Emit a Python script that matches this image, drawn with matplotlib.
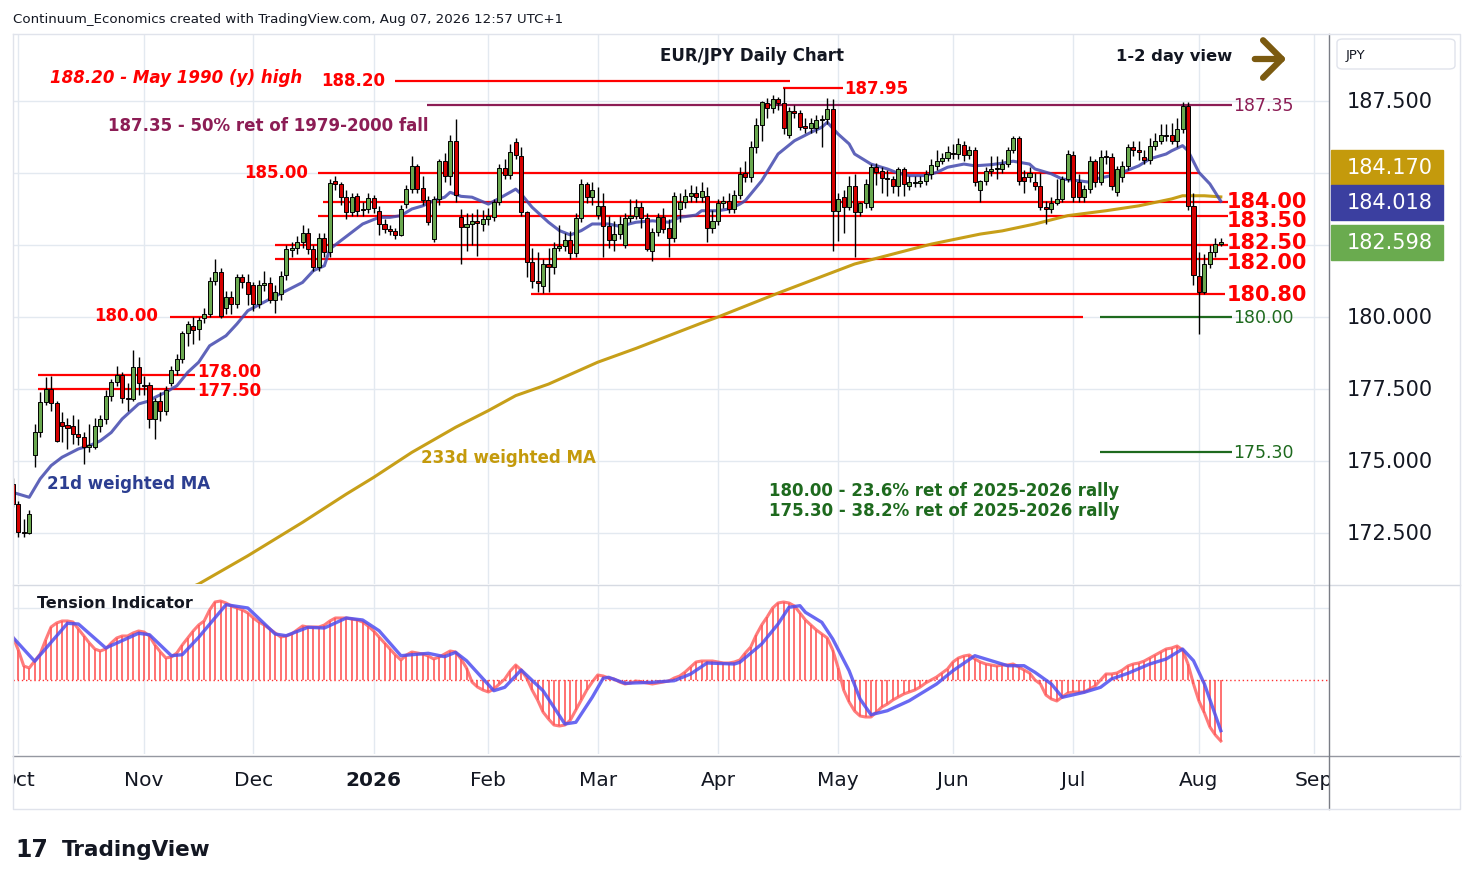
import numpy as np
import pandas as pd
import matplotlib
matplotlib.use("Agg")
import matplotlib.pyplot as plt
from matplotlib.patches import Rectangle, FancyBboxPatch, FancyArrowPatch
from matplotlib.lines import Line2D

# ---------------- DATA ----------------
# daily bars Sep 30 2025 .. Aug 7 2026 (no bars on Dec 25 and Jan 1)
opens = [
    174.2, 173.5, 172.55, 172.5, 175.2, 176.0, 177.05, 177.5, 177.0, 176.35,
    176.25, 176.2, 175.95, 175.85, 175.5, 175.5, 176.2, 176.45, 177.25, 177.75,
    178.0, 177.2, 177.15, 178.25, 177.65, 177.65, 176.45, 177.1, 176.75, 177.7,
    178.15, 178.55, 179.45, 179.7, 179.6, 179.95, 180.1, 181.25, 181.55, 180.3,
    180.7, 180.45, 181.4, 181.2, 181.1, 180.45, 181.1, 181.18, 180.6, 180.8,
    181.46, 182.34, 182.39, 182.6, 182.92, 182.36, 181.73, 182.73, 182.25, 184.73,
    184.62, 184.16, 183.64, 184.19, 183.75, 183.75, 184.12, 183.69, 183.23, 183.06,
    182.98, 182.86, 183.92, 184.44, 185.23, 184.47, 184.07, 182.71, 184.1, 185.43,
    184.89, 186.12, 183.46, 183.11, 183.23, 183.34, 183.23, 183.4, 183.46, 183.98,
    185.16, 184.93, 186.07, 185.6, 183.64, 181.9, 181.26, 181.09, 181.84, 181.73,
    182.39, 182.48, 182.67, 182.22, 183.43, 184.62, 184.16, 183.54, 183.84, 183.15,
    182.68, 182.87, 182.5, 183.43, 183.52, 183.83, 183.43, 182.3, 182.96, 183.46,
    183.08, 182.73, 183.75, 183.98, 184.19, 184.3, 184.16, 184.21, 183.08, 183.34,
    183.95, 184.04, 183.75, 184.25, 184.99, 184.87, 185.89, 186.68, 187.42, 187.26,
    187.57, 187.42, 186.33, 187.14, 187.07, 186.64, 186.56, 186.56, 186.84, 186.87,
    187.22, 183.69, 184.16, 183.81, 184.56, 183.66, 183.95, 183.81, 185.2, 185.06,
    184.81, 184.79, 184.56, 185.14, 184.56, 184.66, 184.64, 184.71, 184.97, 185.25,
    185.41, 185.52, 185.7, 185.66, 185.98, 185.64, 185.8, 184.41, 184.71, 185.08,
    185.13, 185.13, 185.31, 185.8, 186.22, 184.87, 184.87, 184.68, 184.56, 183.83,
    183.74, 183.95, 184.1, 184.79, 185.64, 184.68, 184.16, 184.44, 185.41, 184.68,
    185.57, 185.57, 184.33, 184.85, 185.25, 185.89, 185.8, 185.55, 185.45, 185.95,
    186.12, 186.33, 186.33, 186.12, 186.53, 187.34, 183.87, 181.43, 180.86, 181.84,
    182.25, 182.53]
closes = [
    173.5, 172.55, 172.5, 173.15, 176.0, 177.05, 177.5, 177.0, 175.7, 176.2,
    176.15, 175.95, 175.85, 175.5, 175.55, 176.2, 176.45, 177.25, 177.75, 178.0,
    177.2, 177.15, 178.25, 177.7, 177.6, 176.45, 177.1, 176.75, 177.45, 178.15,
    178.55, 179.45, 179.75, 179.55, 179.9, 180.1, 181.25, 181.55, 180.05, 180.7,
    180.45, 181.4, 181.2, 180.8, 180.45, 181.1, 181.18, 180.6, 180.88, 181.44,
    182.36, 182.39, 182.6, 182.92, 182.36, 181.73, 182.73, 182.25, 184.65, 184.62,
    184.16, 183.64, 184.16, 183.69, 183.72, 184.12, 183.77, 183.23, 183.06, 182.98,
    182.86, 183.75, 184.44, 185.23, 184.44, 184.07, 183.31, 184.1, 185.43, 184.91,
    186.12, 184.24, 183.11, 183.23, 183.34, 183.26, 183.4, 183.5, 183.98, 185.16,
    184.93, 185.72, 185.63, 183.64, 181.9, 181.26, 181.17, 181.84, 181.73, 182.39,
    182.48, 182.67, 182.22, 183.43, 184.62, 184.16, 184.41, 183.84, 183.15, 182.68,
    182.87, 183.24, 183.43, 183.52, 183.83, 183.43, 182.36, 182.96, 183.46, 183.06,
    182.73, 184.21, 183.98, 184.19, 184.3, 184.16, 184.39, 183.08, 183.34, 183.95,
    184.04, 183.75, 184.25, 184.97, 184.87, 185.89, 186.68, 187.45, 187.26, 187.57,
    187.42, 186.56, 187.14, 187.07, 186.61, 186.56, 186.72, 186.84, 186.87, 187.22,
    183.69, 184.1, 183.81, 184.56, 183.66, 183.95, 184.62, 185.2, 185.03, 184.83,
    184.79, 184.56, 185.14, 184.62, 184.68, 184.7, 184.73, 184.97, 185.28, 185.41,
    185.52, 185.72, 185.65, 186.01, 185.64, 185.8, 184.68, 184.71, 185.08, 185.14,
    185.17, 185.31, 185.8, 186.22, 184.73, 184.73, 184.99, 184.56, 183.83, 183.74,
    183.95, 184.1, 184.79, 185.66, 184.16, 184.16, 184.44, 185.41, 184.68, 185.57,
    185.55, 184.56, 185.14, 185.25, 185.89, 185.8, 185.72, 185.45, 185.95, 186.12,
    186.33, 186.27, 186.1, 186.53, 187.34, 183.87, 181.47, 180.86, 181.84, 182.25,
    182.53, 182.6]
highs = [
    174.4, 173.6, 173.0, 173.3, 176.3, 177.4, 177.9, 177.95, 177.1, 176.7,
    176.5, 176.6, 176.45, 176.0, 176.3, 176.5, 176.6, 177.45, 177.85, 178.3,
    178.1, 177.7, 178.85, 178.6, 177.95, 177.75, 177.2, 177.4, 177.6, 178.3,
    178.7, 179.5, 179.85, 180.0, 180.0, 180.3, 181.4, 182.0, 181.7, 180.9,
    180.9, 181.5, 181.5, 181.5, 181.2, 181.3, 181.6, 181.4, 181.1, 181.6,
    182.5, 182.6, 182.8, 183.2, 183.1, 182.5, 182.9, 182.9, 184.79, 184.9,
    184.7, 184.4, 184.3, 184.3, 184.0, 184.3, 184.25, 183.86, 183.4, 183.2,
    183.1, 183.9, 184.6, 185.6, 185.3, 184.9, 184.2, 184.2, 185.5, 185.7,
    186.32, 186.88, 183.75, 183.6, 183.6, 183.75, 183.7, 183.8, 184.1, 185.3,
    185.49, 186.0, 186.2, 185.9, 183.69, 182.4, 182.27, 182.0, 182.4, 182.6,
    183.2, 182.9, 183.0, 183.6, 184.79, 184.7, 184.7, 184.5, 184.3, 183.5,
    183.35, 183.5, 183.6, 184.1, 184.1, 184.0, 183.6, 183.1, 183.6, 183.8,
    183.4, 184.35, 184.3, 184.45, 184.6, 184.55, 184.7, 184.5, 183.7, 184.1,
    184.2, 184.3, 184.4, 185.2, 185.4, 186.1, 186.9, 187.5, 187.6, 187.7,
    187.65, 187.95, 187.3, 187.35, 187.2, 186.9, 186.9, 187.0, 187.0, 187.6,
    187.57, 184.3, 184.4, 184.9, 184.97, 184.0, 184.8, 185.3, 185.35, 185.2,
    185.1, 184.9, 185.2, 185.2, 184.9, 184.9, 184.9, 185.1, 185.5, 185.8,
    185.7, 185.95, 186.0, 186.2, 186.1, 185.95, 185.9, 184.75, 185.2, 185.6,
    185.6, 185.5, 185.9, 186.3, 186.3, 185.1, 185.2, 185.0, 185.0, 184.04,
    184.15, 184.8, 184.9, 185.8, 185.75, 184.95, 184.6, 185.6, 185.5, 185.8,
    185.8, 185.7, 185.25, 185.4, 186.0, 186.1, 186.1, 185.8, 186.2, 186.4,
    186.7, 186.7, 186.75, 186.9, 187.45, 187.45, 184.3, 182.25, 182.2, 182.5,
    182.75, 182.75]
lows = [
    173.4, 172.36, 172.35, 172.45, 174.8, 175.85, 176.95, 176.75, 175.65, 175.65,
    175.4, 175.6, 175.55, 174.9, 175.3, 175.4, 176.0, 176.3, 177.1, 177.6,
    177.0, 176.75, 177.1, 177.3, 177.3, 176.15, 175.75, 176.4, 176.6, 177.6,
    178.0, 178.4, 179.0, 179.05, 179.2, 179.8, 180.0, 181.1, 179.95, 180.1,
    180.1, 180.3, 181.0, 180.4, 180.2, 180.3, 180.9, 180.5, 180.14, 180.6,
    181.3, 182.1, 182.2, 182.4, 182.2, 181.6, 181.6, 182.1, 182.1, 184.4,
    183.9, 183.4, 183.5, 183.5, 183.5, 183.6, 183.6, 182.85, 182.9, 182.85,
    182.7, 182.8, 183.8, 184.3, 184.3, 183.9, 183.2, 182.6, 183.9, 184.7,
    184.6, 184.0, 181.84, 182.3, 182.5, 182.13, 183.0, 183.2, 183.35, 183.9,
    184.8, 184.8, 185.5, 183.5, 181.38, 181.0, 180.88, 180.85, 180.88, 181.5,
    182.3, 182.3, 182.0, 182.1, 183.3, 183.95, 183.9, 183.4, 182.08, 182.4,
    182.3, 182.7, 182.4, 183.3, 183.4, 183.1, 182.3, 181.95, 182.8, 182.9,
    182.07, 182.6, 183.3, 183.8, 184.0, 184.0, 184.0, 182.61, 182.9, 183.2,
    183.8, 183.6, 183.6, 184.1, 184.7, 184.7, 185.7, 186.1, 186.9, 187.1,
    187.2, 186.35, 186.2, 186.9, 186.5, 186.4, 186.4, 186.4, 185.9, 186.7,
    182.3, 182.65, 182.9, 183.7, 182.07, 183.5, 183.8, 183.7, 184.6, 184.3,
    184.2, 184.3, 184.2, 184.2, 184.4, 184.5, 184.5, 184.6, 184.8, 185.1,
    185.3, 185.4, 185.5, 185.5, 185.4, 185.5, 184.55, 184.0, 184.6, 184.9,
    184.8, 185.0, 185.2, 185.7, 184.6, 184.3, 184.7, 184.4, 183.7, 183.23,
    183.6, 183.9, 184.0, 184.7, 184.0, 184.0, 184.0, 184.3, 184.5, 184.6,
    185.3, 184.4, 184.2, 184.7, 185.1, 185.6, 185.45, 185.3, 185.3, 185.8,
    186.0, 186.1, 186.0, 185.9, 186.4, 183.7, 181.1, 179.41, 180.8, 181.7,
    182.1, 182.45]

# Tension indicator histogram, one value per bar
tension_hist = [
    43, 30, 14, 12, 19, 26, 40, 53, 57, 59,
    59, 58, 51, 44, 37, 31, 29, 31, 37, 42,
    44, 44, 47, 49, 48, 44, 35, 28, 22, 23,
    27, 35, 42, 49, 55, 59, 70, 78, 79, 77,
    74, 72, 70, 67, 62, 58, 55, 51, 47, 43,
    44, 46, 50, 54, 53, 53, 53, 55, 59, 62,
    62, 62, 61, 60, 58, 54, 49, 43, 37, 31,
    25, 20, 25, 28, 27, 26, 24, 21, 23, 26,
    29, 28, 21, 12, -2, -7, -10, -12, -9, -4,
    1, 9, 15, 10, 2, -10, -20, -32, -39, -45,
    -46, -45, -40, -30, -20, -10, -2, 5, 4, 2,
    1, -2, -4, -3, -1, -2, -3, -4, -3, -2,
    -1, 2, 4, 8, 13, 18, 19, 19, 19, 18,
    17, 17, 18, 20, 27, 33, 45, 55, 63, 72,
    77, 78, 77, 74, 67, 60, 55, 50, 46, 42,
    30, 12, -10, -22, -31, -36, -37, -37, -32, -27,
    -24, -20, -17, -14, -12, -10, -7, -3, 0, 3,
    7, 11, 18, 22, 24, 25, 21, 18, 16, 15,
    14, 15, 15, 16, 13, 10, 7, 0, -4, -15,
    -19, -21, -17, -13, -12, -12, -12, -9, -6, 0,
    6, 6, 7, 10, 14, 16, 17, 19, 22, 25,
    28, 31, 32, 34, 30, 16, -4, -21, -33, -47,
    -55, -61]

# Tension signal line (bar number, value)
signal_bar = [0, 4, 10, 12, 17, 23, 25, 29, 31, 34, 39, 43, 48, 50, 54, 57, 61, 64, 67,
              71, 76, 79, 81, 83, 88, 90, 93, 97, 101, 103, 106, 108, 109, 112, 117, 121,
              124, 127, 132, 133, 137, 140, 142, 144, 145, 148, 150, 153, 155, 157, 160,
              164, 166, 169, 172, 176, 179, 182, 185, 187, 190, 192, 196, 199, 201, 204,
              208, 211, 214, 216, 218, 221]
signal_val = [42.7, 18.7, 56.7, 56, 32, 46.7, 45.3, 24.3, 25.3, 42.7, 75.3, 72, 46, 44.3,
              52.7, 52, 62, 60, 49.3, 24.3, 26.7, 23.3, 27.7, 19.3, -10.7, -7.3, 10, -10.7,
              -44, -42.3, -17.3, 1.7, 2.7, -3.3, -2.3, -0.7, 6, 17, 16, 17.7, 36, 56, 72.7,
              74.3, 67.7, 57.7, 41, 9.3, -19, -34.7, -30.7, -20.7, -14, -4, 9.3, 24.3, 19.3,
              14.3, 14.3, 7.7, -4, -17.3, -12.3, -7.3, 1, 6.7, 16, 21, 31, 19.3, -4, -50.7]

# 21d weighted MA (bar number, value)
wma21_bar = [0, 3, 5, 7, 9, 12, 14, 16, 18, 20, 23, 25, 26, 28, 30, 32, 34, 36, 39, 41,
             43, 47, 50, 53, 55, 57, 58, 60, 62, 64, 67, 69, 71, 73, 75, 77, 79, 80, 82,
             84, 87, 89, 92, 93, 95, 98, 100, 102, 104, 106, 109, 111, 114, 117, 120, 122,
             125, 126, 129, 131, 133, 134, 137, 140, 143, 146, 148, 149, 151, 153, 154,
             157, 160, 162, 164, 167, 169, 171, 174, 176, 179, 181, 183, 186, 187, 190,
             192, 195, 197, 198, 201, 203, 206, 208, 211, 212, 214, 215, 217, 219, 221]
wma21_val = [173.91, 173.74, 174.38, 174.84, 175.13, 175.42, 175.53, 175.70, 175.99, 176.46,
             176.98, 177.09, 177.21, 177.39, 177.61, 178.08, 178.43, 179.0, 179.35, 179.76,
             180.22, 180.62, 180.91, 181.2, 181.61, 181.78, 182.36, 182.65, 182.94, 183.23,
             183.46, 183.46, 183.52, 183.75, 183.86, 184.04, 184.16, 184.33, 184.19, 184.16,
             183.92, 184.12, 184.44, 184.27, 183.81, 183.29, 183.0, 182.85, 183.0, 183.23,
             183.23, 183.15, 183.29, 183.34, 183.29, 183.46, 183.54, 183.69, 183.69, 183.75,
             183.92, 184.04, 184.73, 185.66, 186.12, 186.41, 186.59, 186.76, 186.35, 186.01,
             185.66, 185.31, 185.14, 184.99, 184.91, 184.91, 185.02, 185.2, 185.31, 185.25,
             185.29, 185.34, 185.41, 185.31, 185.14, 184.97, 184.79, 184.73, 184.68, 184.79,
             184.91, 185.02, 185.25, 185.49, 185.66, 185.77, 185.95, 185.77, 185.02, 184.62,
             184.02]

# 233d weighted MA (bar number, value)
wma233_bar = [30, 34, 43, 53, 61, 66, 73, 81, 87, 92, 98, 107, 114, 120, 126, 129, 140,
              154, 168, 177, 181, 187, 193, 200, 206, 212, 214, 218, 221]
wma233_val = [170.4, 170.73, 171.71, 172.87, 173.85, 174.43, 175.30, 176.17, 176.75, 177.27,
              177.67, 178.43, 178.91, 179.35, 179.79, 180.0, 180.83, 181.84, 182.53, 182.88,
              182.99, 183.23, 183.52, 183.69, 183.86, 184.1, 184.21, 184.21, 184.17]

price_ticks = [172.5, 175.0, 177.5, 180.0, 182.5, 185.0, 187.5]
month_names = ["Oct", "Nov", "Dec", "2026", "Feb", "Mar", "Apr", "May", "Jun", "Jul", "Aug", "Sep"]
last_values = ["184.170", "184.018", "182.598"]

# ---------------- FIGURE ----------------
W, H = 1474, 887
fig = plt.figure(figsize=(W / 100, H / 100), dpi=100)
fig.patch.set_facecolor("white")
plt.rcParams["font.family"] = ["DejaVu Sans"]

def fx(x): return x / W
def fy(y): return 1 - y / H
def px2i(x): return (x - 12.834) / 5.466   # pixel x -> bar number

L, R = 13, 1329
ax = fig.add_axes([fx(L), fy(585), fx(R) - fx(L), fy(35) - fy(585)])
axt = fig.add_axes([fx(L), fy(755), fx(R) - fx(L), fy(586) - fy(755)], sharex=ax)
axd = fig.add_axes([fx(L), fy(810), fx(R) - fx(L), fy(757) - fy(810)], sharex=ax)

days = pd.bdate_range("2025-09-30", "2026-09-30")
days = days[~days.isin(pd.to_datetime(["2025-12-25", "2026-01-01"]))]
n = len(closes)
assert len(opens) == n == len(highs) == len(lows) == len(tension_hist) == 222
xb = np.arange(n)

o = np.array(opens); c = np.array(closes); hi = np.array(highs); lo = np.array(lows)
up = c >= o
col = np.where(up, "#6AA84F", "#D50000")

xlim = (px2i(L), px2i(R))
for a in (ax, axt, axd):
    a.set_xlim(*xlim)
    for s in a.spines.values():
        s.set_visible(False)
    a.tick_params(left=False, right=False, bottom=False, top=False,
                  labelleft=False, labelbottom=False, labelright=False)

ax.set_ylim(187.5 - 483 / 28.8, 187.5 + 67 / 28.8)
axt.set_ylim(-74, 95)
axd.set_ylim(0, 1)

# month starts
month_pos = []
seen = set()
for i, d in enumerate(days):
    key = (d.year, d.month)
    if key not in seen:
        seen.add(key)
        month_pos.append(i)
month_pos = month_pos[1:]
grid_c = "#E3E9F0"
for mp in month_pos:
    ax.axvline(mp, color=grid_c, lw=1, zorder=0)
    axt.axvline(mp, color=grid_c, lw=1, zorder=0)
for t in price_ticks:
    ax.axhline(t, color=grid_c, lw=1, zorder=0)
axt.axhline(72, color=grid_c, lw=1, zorder=0)

for mp, name in zip(month_pos, month_names):
    axd.text(mp, 0.55, name, ha="center", va="center", fontsize=14.5,
             fontweight="bold" if name == "2026" else "normal", color="#131722", clip_on=True)

# ---------------- horizontal levels ----------------
red = "#FF0000"
maroon = "#8C1D55"
dgreen = "#1E6A1E"
levels = [  # (price, x0 px, x1 px, color)
    (188.20, 395, 790, red), (187.95, 783, 843, red), (187.35, 427, 1232, maroon),
    (185.00, 318, 1200, red), (184.00, 323, 1228, red), (183.50, 318, 1228, red),
    (182.50, 275, 1228, red), (182.00, 275, 1228, red), (180.80, 531, 1225, red),
    (180.00, 170, 1083, red), (180.00, 1100, 1232, dgreen), (175.30, 1100, 1232, dgreen),
    (178.00, 38, 195, red), (177.50, 38, 195, red)]
for p, x0, x1, cc in levels:
    ax.hlines(p, px2i(x0), px2i(x1), color=cc, lw=1.6, zorder=2)

# MAs
ax.plot(wma233_bar, wma233_val, color="#C49A0C", lw=2.2, zorder=3, alpha=0.95)
ax.plot(wma21_bar, wma21_val, color="#4349AE", lw=2.2, zorder=5, alpha=0.85)

# candles
ax.vlines(xb, lo, hi, color="black", lw=1.0, zorder=6)
body_h = np.maximum(np.abs(c - o), 0.03)
ax.bar(xb, body_h, bottom=np.minimum(o, c), width=0.74, color=col,
       edgecolor="black", linewidth=0.7, zorder=7)

# level labels
bt = dict(fontsize=15, fontweight="bold", color=red, va="center", ha="left", zorder=8)
for txt, yv in [("184.00", 184.03), ("183.50", 183.37), ("182.50", 182.6),
                ("182.00", 181.9), ("180.80", 180.8)]:
    ax.text(px2i(1227), yv, txt, **bt)
st = dict(fontsize=12, fontweight="bold", va="center", zorder=8)
ax.text(px2i(308), 185.03, "185.00", ha="right", color=red, **st)
ax.text(px2i(158), 180.06, "180.00", ha="right", color=red, **st)
ax.text(px2i(385), 188.23, "188.20", ha="right", color=red, **st)
ax.text(px2i(844), 187.95, "187.95", ha="left", color=red, **st)
ax.text(px2i(197), 178.12, "178.00", ha="left", color=red, **st)
ax.text(px2i(197), 177.48, "177.50", ha="left", color=red, **st)
ax.text(px2i(1233), 187.35, "187.35", ha="left", color=maroon, fontsize=12.5, va="center", zorder=8)
ax.text(px2i(1233), 180.0, "180.00", ha="left", color=dgreen, fontsize=12.5, va="center", zorder=8)
ax.text(px2i(1233), 175.3, "175.30", ha="left", color=dgreen, fontsize=12.5, va="center", zorder=8)

ax.text(px2i(50), 188.35, "188.20 - May 1990 (y) high", color=red, fontsize=12,
        fontweight="bold", fontstyle="italic", va="center", ha="left")
ax.text(px2i(108), 186.65, "187.35 - 50% ret of 1979-2000 fall", color=maroon, fontsize=12,
        fontweight="bold", va="center", ha="left")
ax.text(px2i(47), 174.22, "21d weighted MA", color="#2C3E91", fontsize=12,
        fontweight="bold", va="center", ha="left", zorder=8)
ax.text(px2i(421), 175.15, "233d weighted MA", color="#C49A0C", fontsize=12,
        fontweight="bold", va="center", ha="left", zorder=8)
ax.text(px2i(769), 174.01, "180.00 - 23.6% ret of 2025-2026 rally", color=dgreen, fontsize=12,
        fontweight="bold", va="center", ha="left")
ax.text(px2i(769), 173.31, "175.30 - 38.2% ret of 2025-2026 rally", color=dgreen, fontsize=12,
        fontweight="bold", va="center", ha="left")

# ---------------- tension panel ----------------
th = np.array(tension_hist, dtype=float)
axt.vlines(xb, 0, th, color="#FF4A4A", lw=1.1, zorder=2)
axt.plot(xb, th, color="#FF5A5A", lw=2.2, alpha=0.8, zorder=3)
axt.plot(signal_bar, signal_val, color="#4F4FF0", lw=2.4, alpha=0.85, zorder=4)
axt.axhline(0, color="#FF3030", lw=1.0, ls=(0, (1, 2)), zorder=1)
fig.text(fx(37), fy(604), "Tension Indicator", fontsize=11.5, fontweight="bold",
         color="#131722", va="center", ha="left")

# ---------------- right scale ----------------
for t in price_ticks:
    if t in (182.5, 185.0):
        continue
    ax.text(1 + (1347 - R) / (R - L), t, f"{t:.3f}", transform=ax.get_yaxis_transform(),
            fontsize=15, color="#131722", va="center", ha="left", clip_on=False)

badges = [(168, "#C49A0C"), (203, "#3B3FA0"), (243.5, "#6AAB4F")]
for (yc, bc), lab in zip(badges, last_values):
    fig.patches.append(Rectangle((fx(1331), fy(yc + 17.5)), fx(1443) - fx(1331), 35 / H,
                                 transform=fig.transFigure, color=bc, zorder=5))
    fig.text(fx(1347), fy(yc), lab, fontsize=15, color="white", va="center", ha="left", zorder=6)

fig.patches.append(FancyBboxPatch((fx(1337), fy(70)), fx(1455) - fx(1337), 30 / H,
                                  boxstyle="round,pad=0,rounding_size=0.004",
                                  transform=fig.transFigure, facecolor="white",
                                  edgecolor="#E0E3EB", lw=1))
fig.text(fx(1346), fy(55), "JPY", fontsize=9.5, color="#131722", va="center", ha="left")

# frame lines
lc = "#D6DAE2"
fig.add_artist(Line2D([fx(13), fx(1460)], [fy(585.5), fy(585.5)], color=lc, lw=1))
fig.add_artist(Line2D([fx(13), fx(1460)], [fy(757), fy(757)], color="#9598A1", lw=1))
fig.add_artist(Line2D([fx(1329), fx(1329)], [fy(35), fy(810)], color="#7A7D85", lw=1))
fig.add_artist(Line2D([fx(13), fx(1460), fx(1460), fx(13), fx(13)],
                      [fy(35), fy(35), fy(810), fy(810), fy(35)], color="#E0E3EB", lw=1))

# ---------------- header texts ----------------
fig.text(fx(13), fy(19), "Continuum_Economics created with TradingView.com, Aug 07, 2026 12:57 UTC+1",
         fontsize=9.6, color="#131722", va="center", ha="left")
fig.text(fx(752), fy(56), "EUR/JPY Daily Chart", fontsize=12, fontweight="bold",
         color="#131722", va="center", ha="center")
fig.text(fx(1174), fy(57), "1-2 day view", fontsize=11.8, fontweight="bold",
         color="#131722", va="center", ha="center")
fig.add_artist(FancyArrowPatch((fx(1252), fy(60)), (fx(1289), fy(60)),
               transform=fig.transFigure, arrowstyle="->,head_length=0.45,head_width=0.45",
               mutation_scale=30, lw=4.5, color="#7B5A10", capstyle="round", joinstyle="round"))
fig.text(fx(15), fy(850), "17", fontsize=17, fontweight="bold", color="#131722",
         va="center", ha="left")
fig.text(fx(62), fy(850), "TradingView", fontsize=15.5, fontweight="bold", color="#131722",
         va="center", ha="left")

fig.savefig("out.png", dpi=100, facecolor="white")
